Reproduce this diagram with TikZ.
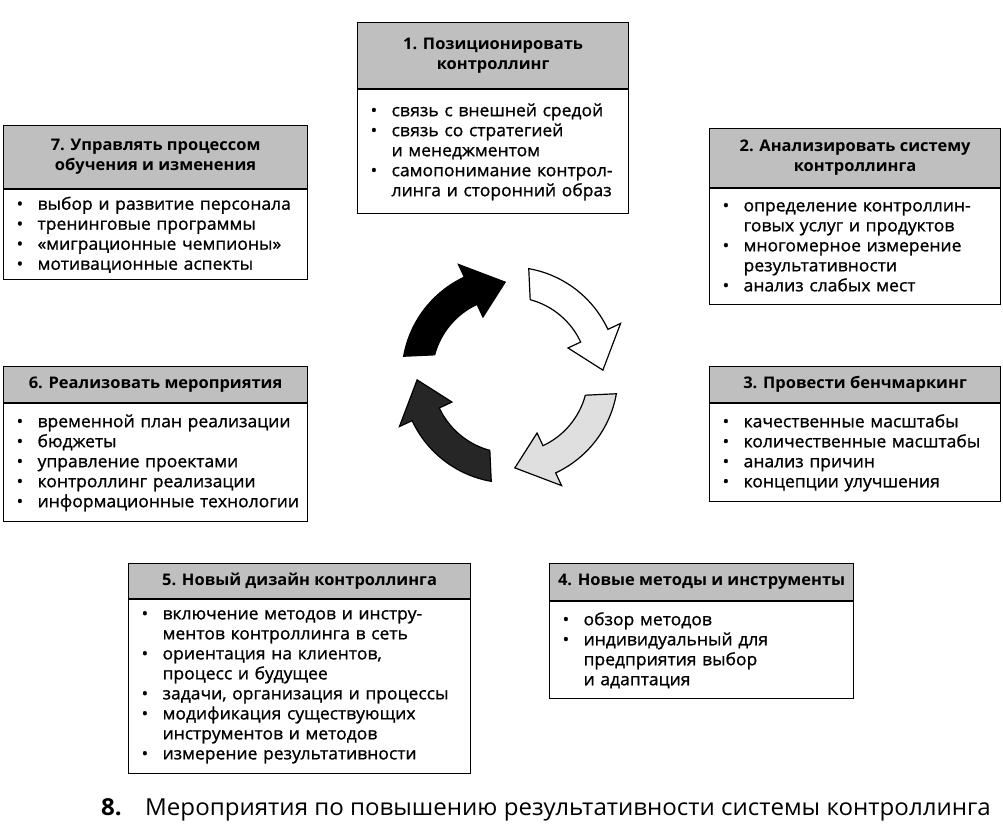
\documentclass[tikz,border=0pt]{standalone}
\usepackage{fontspec}
\setmainfont{Open Sans}[FakeStretch=1.03]
\newfontfamily\bodyfont{Open Sans}[FakeStretch=1.03, FakeBold=1]
\newcommand{\itm}[1]{\mbox{\makebox[21pt][l]{\textbullet}#1}}
\newcommand{\cnt}[1]{\mbox{\hspace*{21pt}#1}}
\begin{document}
\begin{tikzpicture}[
    x=1pt, y=-1pt,
    head/.style={draw, line width=1.2pt, fill=gray!50, font=\fontsize{16}{20}\selectfont\bfseries,
      align=center, anchor=north west, inner sep=0pt},
    body/.style={draw, line width=1.2pt, fill=white, font=\fontsize{17}{20}\bodyfont,
      align=left, anchor=north west, inner xsep=13pt, inner ysep=0pt},
    cyc/.style={draw=black, line width=1.2pt}
  ]
    \useasboundingbox (0,0) rectangle (1003,825);
    % boxes
    \node[head, minimum width=271pt, minimum height=66pt] (h1) at (357,22) {1. Позиционировать\\контроллинг};
    \node[body, minimum width=271pt, minimum height=124pt, text width=245pt] (b1) at (h1.south west)
      {\itm{связь с внешней средой}\\\itm{связь со стратегией}\\\cnt{и менеджментом}\\\itm{самопонимание контрол-}\\\cnt{линга и сторонний образ}};
    \node[head, minimum width=291pt, minimum height=59pt] (h2) at (709,128) {2. Анализировать систему\\контроллинга};
    \node[body, minimum width=291pt, minimum height=116pt, text width=265pt] (b2) at (h2.south west)
      {\itm{определение контроллин-}\\\cnt{говых услуг и продуктов}\\\itm{многомерное измерение}\\\cnt{результативности}\\\itm{анализ слабых мест}};
    \node[head, minimum width=291pt, minimum height=36pt] (h3) at (709,366) {3. Провести бенчмаркинг};
    \node[body, minimum width=291pt, minimum height=98pt, text width=265pt] (b3) at (h3.south west)
      {\itm{качественные масштабы}\\\itm{количественные масштабы}\\\itm{анализ причин}\\\itm{концепции улучшения}};
    \node[head, minimum width=304pt, minimum height=37pt] (h4) at (549,563) {4. Новые методы и инструменты};
    \node[body, minimum width=304pt, minimum height=97pt, text width=278pt] (b4) at (h4.south west)
      {\itm{обзор методов}\\\itm{индивидуальный для}\\\cnt{предприятия выбор}\\\cnt{и адаптация}};
    \node[head, minimum width=342pt, minimum height=35pt] (h5) at (128,563) {5. Новый дизайн контроллинга};
    \node[body, minimum width=342pt, minimum height=174pt, text width=316pt] (b5) at (h5.south west)
      {\itm{включение методов и инстру-}\\\cnt{ментов контроллинга в сеть}\\\itm{ориентация на клиентов,}\\\cnt{процесс и будущее}\\\itm{задачи, организация и процессы}\\\itm{модификация существующих}\\\cnt{инструментов и методов}\\\itm{измерение результативности}};
    \node[head, minimum width=304pt, minimum height=36pt] (h6) at (3,366) {6. Реализовать мероприятия};
    \node[body, minimum width=304pt, minimum height=118pt, text width=278pt] (b6) at (h6.south west)
      {\itm{временной план реализации}\\\itm{бюджеты}\\\itm{управление проектами}\\\itm{контроллинг реализации}\\\itm{информационные технологии}};
    \node[head, minimum width=304pt, minimum height=63pt] (h7) at (3,125) {7. Управлять процессом\\обучения и изменения};
    \node[body, minimum width=304pt, minimum height=90pt, text width=278pt] (b7) at (h7.south west)
      {\itm{выбор и развитие персонала}\\\itm{тренинговые программы}\\\itm{«миграционные чемпионы»}\\\itm{мотивационные аспекты}};
    % cycle of arrows
    \begin{scope}[shift={(510,375)}, x=1pt, y=1pt]
      \foreach \t/\c in {170/black, 80/white, -10/gray!25, -100/black!85} {
        \draw[cyc, fill=\c] (\t:108) arc[start angle=\t, end angle=\t-55, radius=108]
          -- (\t-55:122) -- (\t-77:93) -- (\t-55:64) -- (\t-55:78)
          arc[start angle=\t-55, end angle=\t-5, radius=78] -- cycle;
      }
    \end{scope}
    % caption
    \node[anchor=base west, font=\fontsize{23.4}{27}\selectfont\bfseries, inner sep=0pt] (num) at (101,815) {8.};
    \node[anchor=base west, font=\fontsize{23.4}{27}\selectfont, inner sep=0pt] (cap) at (145,815)
      {Мероприятия по повышению результативности системы контроллинга};
\end{tikzpicture}
\end{document}
